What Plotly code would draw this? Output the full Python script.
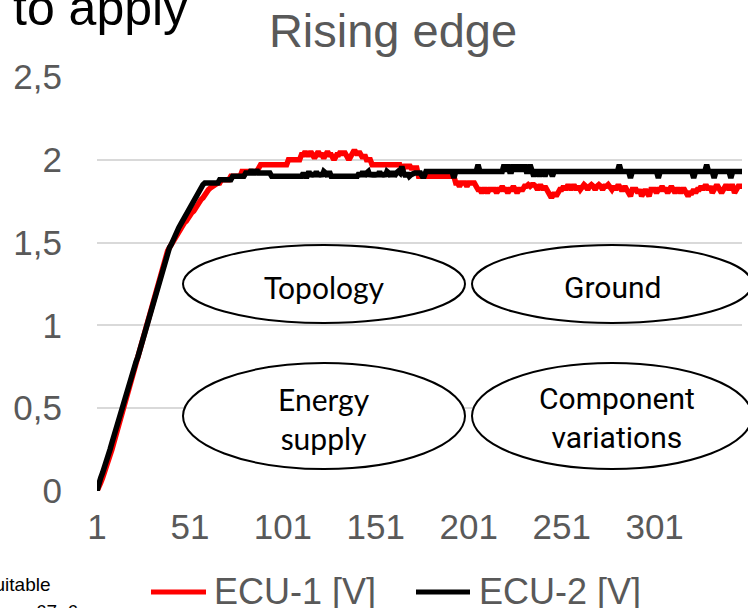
import plotly.graph_objects as go

# Sample index (category axis)
categories = list(range(1, 349))

# ECU-1 [V] (red)
ecu1 = [
    0.00, 0.02, 0.05, 0.08, 0.11, 0.14, 0.18, 0.21, 0.25, 0.29,
    0.33, 0.37, 0.41, 0.45, 0.49, 0.54, 0.58, 0.62, 0.66, 0.70,
    0.74, 0.78, 0.82, 0.86, 0.90, 0.94, 0.98, 1.02, 1.06, 1.10,
    1.15, 1.19, 1.23, 1.27, 1.31, 1.35, 1.39, 1.42, 1.45, 1.47,
    1.49, 1.51, 1.53, 1.55, 1.57, 1.58, 1.60, 1.62, 1.63, 1.65,
    1.66, 1.68, 1.69, 1.71, 1.72, 1.74, 1.76, 1.77, 1.79, 1.80,
    1.82, 1.83, 1.84, 1.84, 1.86, 1.86, 1.86, 1.88, 1.88, 1.88,
    1.88, 1.88, 1.90, 1.90, 1.90, 1.90, 1.90, 1.90, 1.93, 1.93,
    1.93, 1.93, 1.93, 1.93, 1.93, 1.93, 1.93, 1.95, 1.97, 1.97,
    1.97, 1.97, 1.97, 1.97, 1.97, 1.97, 1.97, 1.97, 1.97, 1.97,
    1.97, 1.97, 1.97, 2.00, 2.00, 2.00, 2.00, 2.00, 2.00, 2.00,
    2.03, 2.03, 2.05, 2.03, 2.03, 2.05, 2.03, 2.01, 2.03, 2.05,
    2.03, 2.03, 2.01, 2.03, 2.05, 2.03, 2.03, 2.01, 2.01, 2.03,
    2.03, 2.05, 2.03, 2.05, 2.03, 2.01, 2.01, 2.03, 2.05, 2.05,
    2.03, 2.05, 2.03, 2.01, 2.03, 2.00, 2.00, 2.00, 1.97, 1.97,
    1.97, 1.97, 1.97, 1.97, 1.97, 1.97, 1.97, 1.97, 1.97, 1.97,
    1.97, 1.97, 1.97, 1.97, 1.95, 1.95, 1.97, 1.95, 1.97, 1.95,
    1.95, 1.95, 1.95, 1.90, 1.90, 1.90, 1.90, 1.90, 1.90, 1.90,
    1.90, 1.90, 1.90, 1.90, 1.90, 1.90, 1.90, 1.90, 1.90, 1.90,
    1.90, 1.90, 1.90, 1.86, 1.86, 1.84, 1.86, 1.86, 1.86, 1.84,
    1.86, 1.86, 1.86, 1.86, 1.84, 1.82, 1.82, 1.80, 1.82, 1.82,
    1.80, 1.82, 1.82, 1.82, 1.82, 1.80, 1.82, 1.82, 1.84, 1.82,
    1.82, 1.80, 1.82, 1.82, 1.84, 1.82, 1.80, 1.82, 1.82, 1.82,
    1.84, 1.84, 1.85, 1.84, 1.85, 1.85, 1.84, 1.82, 1.84, 1.84,
    1.82, 1.84, 1.82, 1.80, 1.78, 1.78, 1.80, 1.78, 1.80, 1.82,
    1.82, 1.84, 1.82, 1.84, 1.84, 1.82, 1.84, 1.84, 1.82, 1.84,
    1.82, 1.84, 1.85, 1.84, 1.82, 1.84, 1.85, 1.84, 1.82, 1.84,
    1.85, 1.84, 1.82, 1.84, 1.84, 1.85, 1.84, 1.82, 1.84, 1.82,
    1.84, 1.84, 1.82, 1.82, 1.84, 1.82, 1.80, 1.78, 1.82, 1.82,
    1.82, 1.80, 1.82, 1.78, 1.80, 1.82, 1.80, 1.78, 1.82, 1.82,
    1.82, 1.80, 1.82, 1.82, 1.84, 1.82, 1.82, 1.80, 1.82, 1.84,
    1.82, 1.80, 1.82, 1.82, 1.80, 1.82, 1.82, 1.80, 1.78, 1.80,
    1.80, 1.82, 1.80, 1.82, 1.82, 1.84, 1.82, 1.84, 1.84, 1.82,
    1.84, 1.80, 1.82, 1.84, 1.84, 1.82, 1.80, 1.82, 1.84, 1.84,
    1.82, 1.84, 1.84, 1.80, 1.82, 1.84, 1.84, 1.84,
]

# ECU-2 [V] (black)
ecu2 = [
    0.00, 0.05, 0.08, 0.11, 0.14, 0.18, 0.22, 0.25, 0.29, 0.33,
    0.37, 0.41, 0.44, 0.48, 0.52, 0.56, 0.59, 0.63, 0.67, 0.70,
    0.74, 0.78, 0.81, 0.85, 0.89, 0.93, 0.96, 1.00, 1.04, 1.08,
    1.12, 1.16, 1.20, 1.24, 1.28, 1.32, 1.36, 1.40, 1.44, 1.47,
    1.49, 1.52, 1.54, 1.56, 1.59, 1.61, 1.63, 1.65, 1.67, 1.70,
    1.72, 1.74, 1.76, 1.78, 1.80, 1.82, 1.83, 1.85, 1.86, 1.86,
    1.86, 1.86, 1.86, 1.86, 1.86, 1.86, 1.88, 1.88, 1.88, 1.88,
    1.88, 1.88, 1.88, 1.90, 1.90, 1.90, 1.90, 1.90, 1.90, 1.90,
    1.92, 1.92, 1.92, 1.94, 1.92, 1.92, 1.94, 1.92, 1.92, 1.92,
    1.92, 1.92, 1.92, 1.92, 1.90, 1.90, 1.90, 1.90, 1.90, 1.90,
    1.90, 1.90, 1.90, 1.90, 1.90, 1.90, 1.90, 1.90, 1.90, 1.90,
    1.90, 1.92, 1.90, 1.90, 1.93, 1.90, 1.92, 1.90, 1.93, 1.90,
    1.92, 1.90, 1.93, 1.92, 1.90, 1.93, 1.90, 1.90, 1.90, 1.90,
    1.90, 1.90, 1.90, 1.90, 1.90, 1.90, 1.90, 1.90, 1.90, 1.90,
    1.90, 1.92, 1.90, 1.93, 1.90, 1.92, 1.93, 1.90, 1.92, 1.90,
    1.92, 1.90, 1.93, 1.90, 1.92, 1.90, 1.93, 1.92, 1.90, 1.93,
    1.90, 1.92, 1.93, 1.92, 1.96, 1.92, 1.90, 1.92, 1.90, 1.91,
    1.92, 1.92, 1.92, 1.92, 1.92, 1.90, 1.90, 1.93, 1.93, 1.93,
    1.93, 1.93, 1.93, 1.93, 1.93, 1.93, 1.93, 1.93, 1.93, 1.93,
    1.93, 1.93, 1.89, 1.93, 1.93, 1.93, 1.93, 1.93, 1.93, 1.93,
    1.93, 1.93, 1.93, 1.93, 1.93, 1.97, 1.93, 1.93, 1.93, 1.93,
    1.93, 1.93, 1.93, 1.93, 1.93, 1.93, 1.93, 1.93, 1.93, 1.97,
    1.93, 1.97, 1.93, 1.93, 1.97, 1.93, 1.97, 1.93, 1.97, 1.93,
    1.97, 1.93, 1.93, 1.97, 1.93, 1.90, 1.93, 1.93, 1.90, 1.93,
    1.93, 1.90, 1.93, 1.93, 1.93, 1.90, 1.93, 1.93, 1.93, 1.93,
    1.93, 1.93, 1.93, 1.93, 1.93, 1.93, 1.93, 1.93, 1.93, 1.93,
    1.93, 1.93, 1.93, 1.93, 1.93, 1.93, 1.93, 1.93, 1.93, 1.93,
    1.93, 1.93, 1.93, 1.93, 1.93, 1.93, 1.93, 1.93, 1.93, 1.93,
    1.93, 1.97, 1.93, 1.93, 1.93, 1.93, 1.93, 1.89, 1.93, 1.93,
    1.93, 1.93, 1.93, 1.93, 1.93, 1.93, 1.93, 1.93, 1.93, 1.93,
    1.93, 1.93, 1.89, 1.93, 1.93, 1.93, 1.93, 1.93, 1.93, 1.93,
    1.93, 1.93, 1.93, 1.93, 1.93, 1.93, 1.93, 1.93, 1.93, 1.93,
    1.93, 1.89, 1.93, 1.93, 1.93, 1.93, 1.93, 1.93, 1.97, 1.93,
    1.93, 1.93, 1.89, 1.93, 1.93, 1.93, 1.93, 1.93, 1.93, 1.93,
    1.93, 1.89, 1.93, 1.93, 1.93, 1.93, 1.93, 1.93,
]

series_names = ["ECU-1 [V]", "ECU-2 [V]"]
series_colors = ["#ff0000", "#000000"]

x_tick_vals = [1, 51, 101, 151, 201, 251, 301]
x_tick_text = ["1", "51", "101", "151", "201", "251", "301"]
y_tick_vals = [0, 0.5, 1, 1.5, 2, 2.5]
y_tick_text = ["0", "0,5", "1", "1,5", "2", "2,5"]

box_labels = ["Topology", "Ground", "Energy<br>supply", "Component<br>variations"]

W, H = 748, 608
L, R, T, B = 97, 6, 77, 117
pw, ph = W - L - R, H - T - B


def px(x):
    return (x - L) / pw


def py(y):
    return (H - B - y) / ph


TXT = "Liberation Sans, Arial, sans-serif"
GRAY = "#595959"

fig = go.Figure()
for name, vals, col in zip(series_names, [ecu1, ecu2], series_colors):
    fig.add_trace(go.Scatter(
        x=categories, y=vals, name=name, mode="lines",
        line=dict(color=col, width=5.5), showlegend=False,
    ))

shapes = []
# ellipses (white filled)
ell = [
    (183, 465, 245, 323),
    (472, 752, 245, 323),
    (183, 465, 363, 469),
    (472, 752, 363, 469),
]
for x0, x1, y0, y1 in ell:
    shapes.append(dict(
        type="circle", xref="paper", yref="paper",
        x0=px(x0), x1=px(x1), y0=py(y1), y1=py(y0),
        line=dict(color="black", width=2), fillcolor="white", layer="above",
    ))

annotations = []
# legend (drawn manually below the axis)
legend_pos = [(151, 206, 212), (416, 470, 477)]
for (lx0, lx1, tx), name, col in zip(legend_pos, series_names, series_colors):
    shapes.append(dict(
        type="line", xref="paper", yref="paper",
        x0=px(lx0), x1=px(lx1), y0=py(592), y1=py(592),
        line=dict(color=col, width=5),
    ))
    annotations.append(dict(
        x=px(tx), y=py(591), xref="paper", yref="paper", text=name,
        showarrow=False, xanchor="left", yanchor="middle",
        font=dict(family=TXT, size=36, color=GRAY),
    ))

label_pos = [(324, 287, "Lato"), (612.5, 287, "Roboto"),
             (324, 418, "Lato"), (617, 418, "Roboto")]
for (lx, ly, fam), txt in zip(label_pos, box_labels):
    annotations.append(dict(
        x=px(lx), y=py(ly), xref="paper", yref="paper", text=txt,
        showarrow=False, xanchor="center", yanchor="middle",
        font=dict(family=fam, size=30, color="black"),
    ))

# cropped slide text around the chart
annotations.append(dict(
    x=px(11), y=py(8), xref="paper", yref="paper", text="to apply",
    showarrow=False, xanchor="left", yanchor="middle",
    font=dict(family=TXT, size=50, color="black"),
))
annotations.append(dict(
    x=px(53), y=py(584), xref="paper", yref="paper", text="suitable",
    showarrow=False, xanchor="right", yanchor="middle",
    font=dict(family=TXT, size=19, color="black"),
))
annotations.append(dict(
    x=px(80), y=py(611), xref="paper", yref="paper", text="ogy 67, 6",
    showarrow=False, xanchor="right", yanchor="middle",
    font=dict(family=TXT, size=19, color="black"),
))

fig.update_layout(
    width=W, height=H,
    margin=dict(l=L, r=R, t=T, b=B, pad=0, autoexpand=False),
    paper_bgcolor="white", plot_bgcolor="white",
    title=dict(text="Rising edge", x=393 / W, xanchor="center",
               y=1 - 31 / H, yanchor="middle",
               font=dict(family=TXT, size=47, color=GRAY)),
    xaxis=dict(range=[1, 348], tickvals=x_tick_vals, ticktext=x_tick_text,
               showgrid=False, zeroline=False, showline=False, ticks="",
               ticklabelstandoff=12, automargin=False,
               tickfont=dict(family=TXT, size=35, color=GRAY)),
    yaxis=dict(range=[0, 2.5], tickvals=y_tick_vals, ticktext=y_tick_text,
               showgrid=True, gridcolor="#d9d9d9", gridwidth=1.5,
               zeroline=False, showline=False, ticks="",
               ticklabelstandoff=34, automargin=False,
               tickfont=dict(family=TXT, size=35, color=GRAY)),
    shapes=shapes,
    annotations=annotations,
    showlegend=False,
)

fig.write_html(
    "out.html",
    config={"displayModeBar": False},
    post_script="document.body.style.margin='0';document.body.style.overflow='hidden';",
)
